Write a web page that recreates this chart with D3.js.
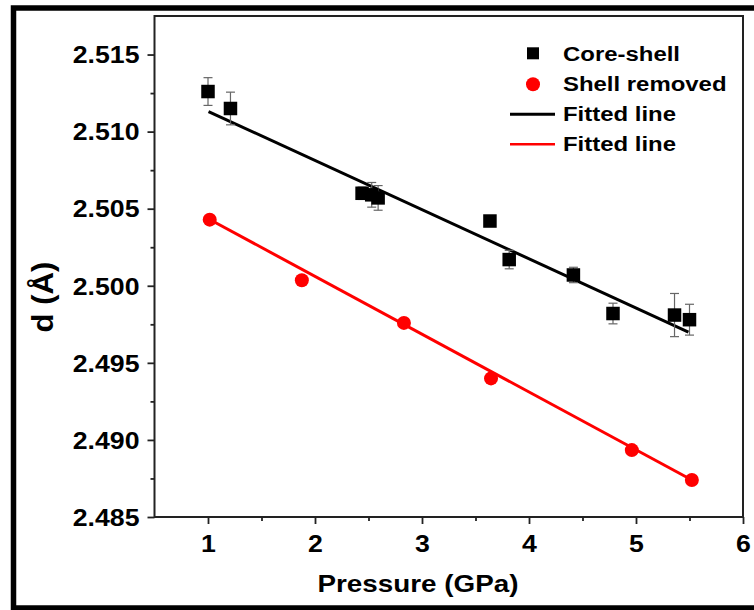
<!DOCTYPE html>
<html>
<head>
<meta charset="utf-8">
<script src="https://cdn.jsdelivr.net/npm/d3@7/dist/d3.min.js"></script>
<style>
  html, body { margin: 0; padding: 0; background: #fff; }
  svg { display: block; }
  text { font-family: "Liberation Sans", Arial, sans-serif; font-weight: bold; fill: #000; }
</style>
</head>
<body>
<svg id="chart" width="754" height="610"></svg>
<script>
// ---- data ----
const xTicks = [1, 2, 3, 4, 5, 6];
const xMinorTicks = [1.5, 2.5, 3.5, 4.5, 5.5];
const yTicks = [2.485, 2.490, 2.495, 2.500, 2.505, 2.510, 2.515];
const yMinorTicks = [2.4875, 2.4925, 2.4975, 2.5025, 2.5075, 2.5125];

const corePressure = [1.0, 1.21, 2.44, 2.53, 2.59, 3.635, 3.815, 4.415, 4.785, 5.36, 5.50];
const coreD        = [2.5126, 2.5115, 2.5060, 2.5059, 2.5057, 2.5042, 2.5017, 2.5007, 2.4982, 2.4981, 2.4978];
const coreErr      = [0.0009, 0.00106, 0.0004, 0.0008, 0.0008, 0.0002, 0.0006, 0.0005, 0.00067, 0.0014, 0.001];

const shellPressure = [1.016, 1.877, 2.831, 3.645, 4.961, 5.522];
const shellD        = [2.50429, 2.50036, 2.49759, 2.49399, 2.48934, 2.48740];
const shellErr      = [0.0001, 0.0001, 0.0001, 0.0001, 0.00025, 0.0001];

const coreFitX = [1.005, 5.49];
const coreFitY = [2.5113, 2.4970];
const shellFitX = [1.016, 5.522];
const shellFitY = [2.5043, 2.4874];

const legendLabels = ["Core-shell", "Shell removed", "Fitted line", "Fitted line"];
const xTitle = "Pressure (GPa)";
const yTitle = "d (Å)";

// ---- layout ----
const svg = d3.select("#chart");
const pLeft = 154.5, pRight = 743, pTop = 16, pBottom = 517;
const SX = 1.16; // horizontal stretch of text

const x = d3.scaleLinear().domain([0.5, 6]).range([pLeft, pRight]);
const y = d3.scaleLinear().domain([2.485, 2.5175]).range([pBottom, pTop]);

// outer thick frame
svg.append("rect")
  .attr("x", 13.5).attr("y", 8)
  .attr("width", 800).attr("height", 600)
  .attr("fill", "none").attr("stroke", "#000").attr("stroke-width", 5.5);

// plot frame
svg.append("rect")
  .attr("x", pLeft).attr("y", pTop)
  .attr("width", pRight - pLeft).attr("height", pBottom - pTop)
  .attr("fill", "none").attr("stroke", "#222").attr("stroke-width", 2);

// axes
const yAxis = svg.append("g").attr("transform", `translate(${pLeft},0)`)
  .call(d3.axisLeft(y).tickValues(yTicks).tickSize(7).tickSizeOuter(0).tickFormat(d3.format(".3f")));
yAxis.select(".domain").remove();
yAxis.selectAll("line").attr("stroke", "#222").attr("stroke-width", 1.8);
yAxis.selectAll("text")
  .attr("x", null).attr("dy", null)
  .attr("transform", `translate(-15,8.3) scale(${SX},1)`)
  .style("font-size", "23px");

const yMinor = svg.append("g").attr("transform", `translate(${pLeft},0)`)
  .call(d3.axisLeft(y).tickValues(yMinorTicks).tickSize(4).tickFormat(""));
yMinor.select(".domain").remove();
yMinor.selectAll("line").attr("stroke", "#222").attr("stroke-width", 1.8);

const xAxis = svg.append("g").attr("transform", `translate(0,${pBottom})`)
  .call(d3.axisBottom(x).tickValues(xTicks).tickSize(7).tickSizeOuter(0).tickFormat(d3.format("d")));
xAxis.select(".domain").remove();
xAxis.selectAll("line").attr("stroke", "#222").attr("stroke-width", 1.8);
xAxis.selectAll("text")
  .attr("y", null).attr("dy", null)
  .attr("transform", `translate(0,34.7) scale(${SX},1)`)
  .style("font-size", "23px");

const xMinor = svg.append("g").attr("transform", `translate(0,${pBottom})`)
  .call(d3.axisBottom(x).tickValues(xMinorTicks).tickSize(4).tickFormat(""));
xMinor.select(".domain").remove();
xMinor.selectAll("line").attr("stroke", "#222").attr("stroke-width", 1.8);

svg.selectAll(".tick text").attr("fill", "#000");
svg.selectAll("g").attr("font-family", null).attr("font-size", null);

// axis titles
svg.append("text")
  .attr("transform", `translate(418,592) scale(${SX},1)`)
  .attr("text-anchor", "middle")
  .style("font-size", "24px")
  .text(xTitle);

svg.append("text")
  .attr("transform", `translate(53,297) rotate(-90) scale(1.2,1.1)`)
  .attr("text-anchor", "middle")
  .style("font-size", "26px")
  .text(yTitle);

// fitted lines
const line = d3.line().x(d => x(d[0])).y(d => y(d[1]));
svg.append("path")
  .datum(d3.zip(coreFitX, coreFitY))
  .attr("d", line).attr("fill", "none").attr("stroke", "#000").attr("stroke-width", 3);
svg.append("path")
  .datum(d3.zip(shellFitX, shellFitY))
  .attr("d", line).attr("fill", "none").attr("stroke", "#ff0000").attr("stroke-width", 3);

// error bars
function errorBars(px, py, pe, color) {
  const g = svg.append("g");
  const data = d3.zip(px, py, pe);
  g.selectAll("line.v").data(data).join("line").attr("class", "v")
    .attr("x1", d => x(d[0])).attr("x2", d => x(d[0]))
    .attr("y1", d => y(d[1] - d[2])).attr("y2", d => y(d[1] + d[2]))
    .attr("stroke", color).attr("stroke-width", 1.2);
  g.selectAll("line.t").data(data).join("line").attr("class", "t")
    .attr("x1", d => x(d[0]) - 4.5).attr("x2", d => x(d[0]) + 4.5)
    .attr("y1", d => y(d[1] + d[2])).attr("y2", d => y(d[1] + d[2]))
    .attr("stroke", color).attr("stroke-width", 1.2);
  g.selectAll("line.b").data(data).join("line").attr("class", "b")
    .attr("x1", d => x(d[0]) - 4.5).attr("x2", d => x(d[0]) + 4.5)
    .attr("y1", d => y(d[1] - d[2])).attr("y2", d => y(d[1] - d[2]))
    .attr("stroke", color).attr("stroke-width", 1.2);
}
errorBars(corePressure, coreD, coreErr, "#666");
errorBars(shellPressure, shellD, shellErr, "#ff6666");

// markers
const sq = 13.5;
svg.append("g").selectAll("rect").data(d3.zip(corePressure, coreD)).join("rect")
  .attr("x", d => x(d[0]) - sq / 2).attr("y", d => y(d[1]) - sq / 2)
  .attr("width", sq).attr("height", sq).attr("fill", "#000");

svg.append("g").selectAll("circle").data(d3.zip(shellPressure, shellD)).join("circle")
  .attr("cx", d => x(d[0])).attr("cy", d => y(d[1])).attr("r", 7)
  .attr("fill", "#ff0000");

// legend
const lg = svg.append("g");
lg.append("rect").attr("x", 533 - 6).attr("y", 53.3 - 6).attr("width", 12).attr("height", 12).attr("fill", "#000");
lg.append("circle").attr("cx", 533).attr("cy", 84.3).attr("r", 7).attr("fill", "#ff0000");
lg.append("line").attr("x1", 510).attr("x2", 555).attr("y1", 114.3).attr("y2", 114.3).attr("stroke", "#000").attr("stroke-width", 3);
lg.append("line").attr("x1", 510).attr("x2", 555).attr("y1", 144.3).attr("y2", 144.3).attr("stroke", "#ff0000").attr("stroke-width", 2.5);
const baselines = [60.5, 90.5, 121, 151];
lg.selectAll("text.lab").data(legendLabels).join("text").attr("class", "lab")
  .attr("transform", (d, i) => `translate(563,${baselines[i]}) scale(1.14,1)`)
  .style("font-size", "21px")
  .text(d => d);
</script>
</body>
</html>
